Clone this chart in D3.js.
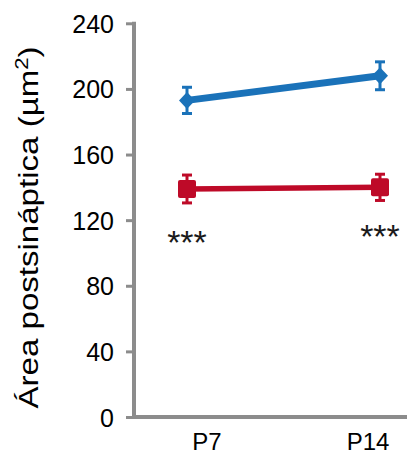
<!DOCTYPE html>
<html>
<head>
<meta charset="utf-8">
<script src="https://cdn.jsdelivr.net/npm/d3@7"></script>
<style>
  html, body { margin: 0; padding: 0; background: #fff; }
  svg { display: block; }
  text { font-family: "Liberation Sans", Arial, Helvetica, sans-serif; }
</style>
</head>
<body>
<svg id="chart" width="408" height="454"></svg>
<script>
// Postsynaptic area by age, two groups (mean ± SEM)
const categories = ["P7", "P14"];
const blueMeans = [193, 208];
const blueErrors = [8, 8.5];
const redMeans = [139, 140];
const redErrors = [8.5, 8];
const significance = ["***", "***"];
const significanceLevels = [111, 114.5];
const yTicks = [0, 40, 80, 120, 160, 200, 240];

const svg = d3.select("#chart");
const axisColor = "#8c8c8c";
const blue = "#1a72b9";
const red = "#be0a28";

const y = d3.scaleLinear().domain([0, 240]).range([417, 23.3]);
const x = d3.scalePoint().domain(categories).range([187, 380]);
const xLabel = d3.scalePoint().domain(categories).range([207, 368]);

// Y axis
const yAxis = svg.append("g").attr("transform", "translate(134,0)")
  .call(d3.axisLeft(y).tickValues(yTicks).tickSize(8).tickPadding(12).tickSizeOuter(0));
yAxis.select(".domain").remove();
yAxis.selectAll(".tick line").attr("stroke", axisColor).attr("stroke-width", 3);
yAxis.selectAll(".tick text").attr("fill", "#000").attr("font-size", 25).attr("dy", "0.36em");
svg.append("line").attr("x1", 134).attr("x2", 134).attr("y1", y(240) - 1.5).attr("y2", y(0))
  .attr("stroke", axisColor).attr("stroke-width", 4);
// X axis baseline
svg.append("line").attr("x1", 132).attr("x2", 407).attr("y1", y(0)).attr("y2", y(0))
  .attr("stroke", axisColor).attr("stroke-width", 4);

// X category labels
svg.append("g").selectAll("text").data(categories).join("text")
  .attr("x", d => xLabel(d)).attr("y", 450)
  .attr("text-anchor", "middle").attr("font-size", 24).attr("fill", "#000")
  .text(d => d);

// Y axis title
svg.append("text")
  .attr("transform", "translate(37.5,227.5) rotate(-90)")
  .attr("text-anchor", "middle").attr("font-size", 27).attr("fill", "#000")
  .attr("textLength", 362).attr("lengthAdjust", "spacingAndGlyphs")
  .html('Área postsináptica (µm<tspan dy="-10" font-size="18">2</tspan><tspan dy="10">)</tspan>');

function drawSeries(means, errors, color, lineWidth, marker) {
  const g = svg.append("g");
  const pts = categories.map((c, i) => ({ c, m: means[i], e: errors[i] }));
  g.append("path").datum(pts)
    .attr("d", d3.line().x(d => x(d.c)).y(d => y(d.m)))
    .attr("fill", "none").attr("stroke", color).attr("stroke-width", lineWidth);
  const eb = g.selectAll(".eb").data(pts).join("g");
  eb.append("line").attr("x1", d => x(d.c)).attr("x2", d => x(d.c))
    .attr("y1", d => y(d.m + d.e)).attr("y2", d => y(d.m - d.e))
    .attr("stroke", color).attr("stroke-width", 3);
  [1, -1].forEach(s => {
    eb.append("line").attr("x1", d => x(d.c) - 5).attr("x2", d => x(d.c) + 5)
      .attr("y1", d => y(d.m + s * d.e)).attr("y2", d => y(d.m + s * d.e))
      .attr("stroke", color).attr("stroke-width", 3);
  });
  if (marker === "diamond") {
    eb.append("path")
      .attr("d", d => `M${x(d.c)},${y(d.m) - 8.5}L${x(d.c) + 8},${y(d.m)}L${x(d.c)},${y(d.m) + 8.5}L${x(d.c) - 8},${y(d.m)}Z`)
      .attr("fill", color);
  } else {
    eb.append("rect")
      .attr("x", d => x(d.c) - 9).attr("y", d => y(d.m) - 9)
      .attr("width", 18).attr("height", 18).attr("rx", 2)
      .attr("fill", color);
  }
  return pts;
}

drawSeries(blueMeans, blueErrors, blue, 7, "diamond");
drawSeries(redMeans, redErrors, red, 5.5, "square");

// Significance marks below the lower series (centred on the given level)
svg.append("g").selectAll("text").data(categories).join("text")
  .attr("x", d => x(d)).attr("y", (d, i) => y(significanceLevels[i]) + 19)
  .attr("text-anchor", "middle").attr("font-size", 34).attr("fill", "#1a1a1a")
  .text((d, i) => significance[i]);
</script>
</body>
</html>
